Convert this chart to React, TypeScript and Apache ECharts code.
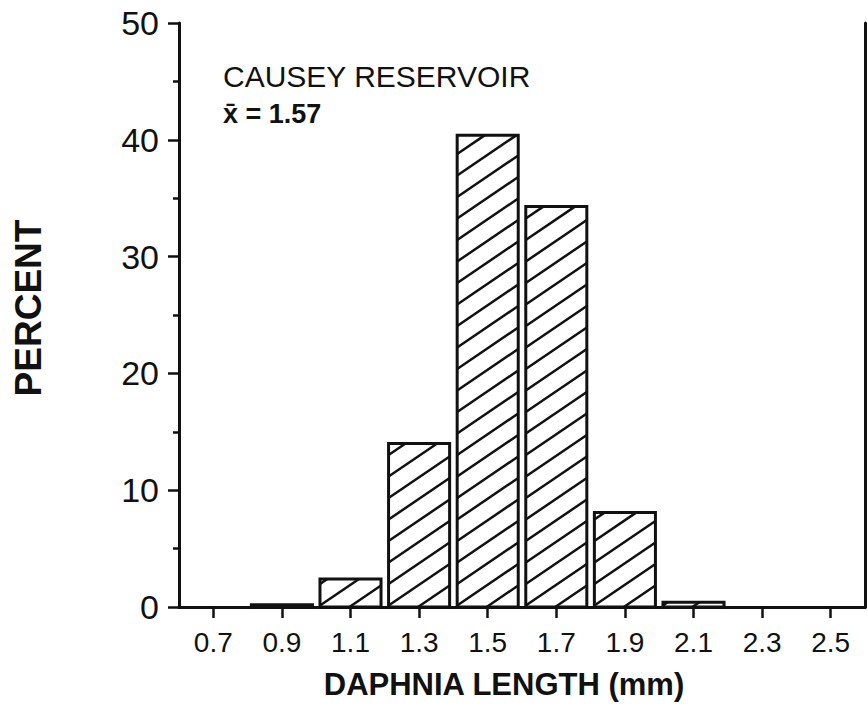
import React, { useEffect, useRef } from "react";
import * as echarts from "echarts";

const categories = ["0.7", "0.9", "1.1", "1.3", "1.5", "1.7", "1.9", "2.1", "2.3", "2.5"];
const percentValues = [0, 0.2, 2.4, 14.0, 40.4, 34.3, 8.1, 0.4, 0, 0];
const yTicks = { min: 0, max: 50, interval: 10 };
const titleText = "CAUSEY RESERVOIR";
const meanText = "x\u0304 = 1.57";
const xTitle = "DAPHNIA LENGTH (mm)";
const yTitle = "PERCENT";

const INK = "#111111";
const BAR_RATIO = 0.89;
const HATCH_SLOPE = 0.68;
const HATCH_STEP = 21.5;

export default function App() {
  const ref = useRef<HTMLDivElement>(null);
  useEffect(() => {
    document.body.style.margin = "0";
    if (!ref.current) return;
    const chart = echarts.init(ref.current, null, { renderer: "svg" });
    const grid = { left: 179, right: 2, top: 23, bottom: 98 };
    chart.setOption({
      animation: false,
      backgroundColor: "#ffffff",
      grid,
      xAxis: [
        {
          type: "category",
          data: categories,
          position: "bottom",
          boundaryGap: true,
          axisLine: { show: true, lineStyle: { color: INK, width: 3 } },
          axisTick: { show: true, alignWithLabel: true, inside: false, length: 11, lineStyle: { color: INK, width: 2.5 } },
          axisLabel: { margin: 21, fontSize: 28, fontFamily: "Liberation Sans", color: INK },
          splitLine: { show: false },
        },
        {
          type: "category",
          data: categories,
          position: "top",
          axisLine: { show: true, lineStyle: { color: INK, width: 3 } },
          axisTick: { show: false },
          axisLabel: { show: false },
        },
      ],
      yAxis: [
        {
          type: "value",
          min: yTicks.min,
          max: yTicks.max,
          interval: yTicks.interval,
          position: "left",
          axisLine: { show: true, lineStyle: { color: INK, width: 3 } },
          axisTick: { show: true, inside: false, length: 11, lineStyle: { color: INK, width: 2.5 } },
          minorTick: { show: true, splitNumber: 2, length: 6, lineStyle: { color: INK, width: 2.5 } },
          axisLabel: {
            margin: 20,
            fontSize: 34,
            fontFamily: "Liberation Sans",
            color: INK,
            padding: [9, 0, 0, 0],
          },
          splitLine: { show: false },
        },
        {
          type: "value",
          min: yTicks.min,
          max: yTicks.max,
          interval: yTicks.interval,
          position: "right",
          axisLine: { show: true, lineStyle: { color: INK, width: 3 } },
          axisTick: { show: false },
          axisLabel: { show: false },
          splitLine: { show: false },
        },
      ],
      series: [
        {
          type: "custom",
          xAxisIndex: 0,
          yAxisIndex: 0,
          data: categories.map((c, i) => [i, percentValues[i]]),
          encode: { x: 0, y: 1 },
          renderItem: (params: any, api: any) => {
            const idx = api.value(0);
            const v = api.value(1);
            if (!(v > 0)) return { type: "group", children: [] };
            const top = api.coord([idx, v]);
            const base = api.coord([idx, 0]);
            const bw = api.size([1, 0])[0] * BAR_RATIO;
            const L = top[0] - bw / 2;
            const R = top[0] + bw / 2;
            const T = top[1];
            const B = base[1];
            const children: any[] = [];
            const s = HATCH_SLOPE;
            const cEnd = T + s * L;
            for (let c = B + s * R; c > cEnd - 1; c -= HATCH_STEP) {
              const x1 = Math.max(L, (c - B) / s);
              const x2 = Math.min(R, (c - T) / s);
              if (x2 - x1 > 0.5) {
                children.push({
                  type: "line",
                  shape: { x1, y1: c - s * x1, x2, y2: c - s * x2 },
                  style: { stroke: INK, lineWidth: 2.5 },
                });
              }
            }
            children.push({
              type: "rect",
              shape: { x: L, y: T, width: R - L, height: B - T },
              style: { fill: "none", stroke: INK, lineWidth: 3 },
            });
            return { type: "group", children };
          },
        },
      ],
      graphic: [
        {
          type: "text",
          x: 223,
          y: 76,
          style: {
            text: titleText,
            fontSize: 30,
            fontFamily: "Liberation Sans",
            fill: INK,
            align: "left",
            verticalAlign: "middle",
          },
        },
        {
          type: "text",
          x: 223,
          y: 114,
          style: {
            text: meanText,
            fontSize: 27,
            fontWeight: "bold",
            fontFamily: "Liberation Sans",
            fill: INK,
            align: "left",
            verticalAlign: "middle",
          },
        },
        {
          type: "text",
          x: 504,
          y: 684,
          style: {
            text: xTitle,
            fontSize: 31,
            fontWeight: "bold",
            fontFamily: "Liberation Sans",
            fill: INK,
            align: "center",
            verticalAlign: "middle",
          },
        },
        {
          type: "text",
          x: 28,
          y: 308,
          rotation: Math.PI / 2,
          style: {
            text: yTitle,
            fontSize: 37,
            fontWeight: "bold",
            fontFamily: "Liberation Sans",
            fill: INK,
            align: "center",
            verticalAlign: "middle",
          },
        },
      ],
    });
    return () => chart.dispose();
  }, []);
  return <div ref={ref} style={{ width: 867, height: 705 }} />;
}
